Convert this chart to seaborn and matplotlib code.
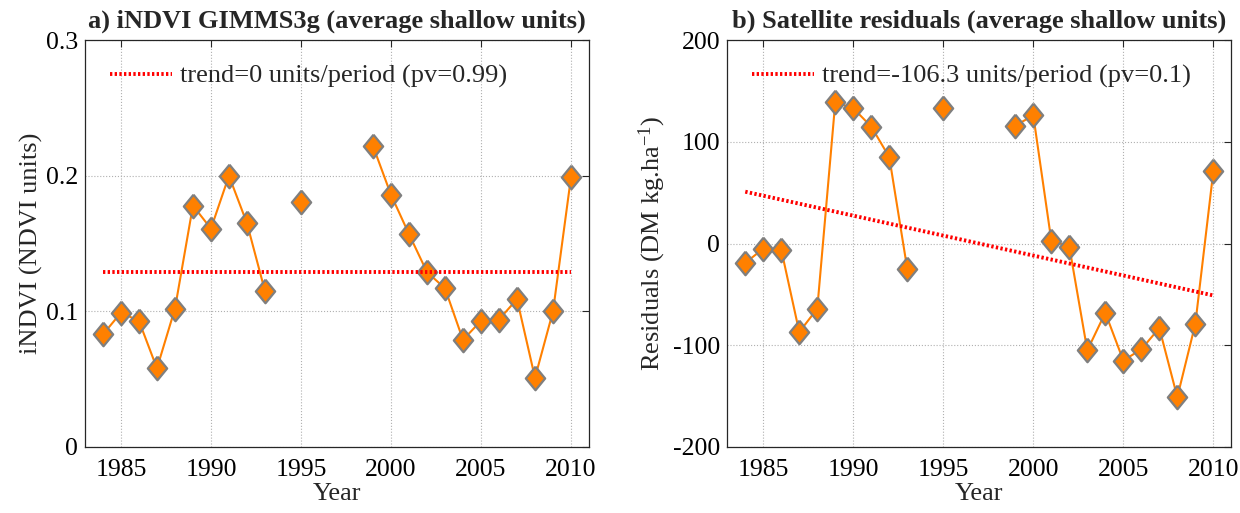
import numpy as np
import pandas as pd
import matplotlib
matplotlib.use("Agg")
import matplotlib.pyplot as plt
import seaborn as sns

years = list(range(1984, 2011))
nan = np.nan
indvi = [0.083, 0.099, 0.093, 0.058, 0.102, 0.178, 0.161, 0.200, 0.165, 0.115,
         nan, 0.181, nan, nan, nan, 0.222, 0.186, 0.157, 0.129, 0.117,
         0.079, 0.093, 0.094, 0.109, 0.051, 0.100, 0.199]
resid = [-19, -5, -6, -87, -64, 139, 133, 115, 85, -25,
         nan, 133, nan, nan, nan, 116, 126, 3, -3, -105,
         -68, -115, -104, -83, -151, -79, 71]
trend_years = [1984, 2010]
trend_indvi = [0.129, 0.129]
trend_resid = [51, -51]

titles = ["a) iNDVI GIMMS3g (average shallow units)",
          "b) Satellite residuals (average shallow units)"]
ylabels = ["iNDVI (NDVI units)", r"Residuals (DM kg.ha$^{-1}$)"]
legends = ["trend=0 units/period (pv=0.99)",
           "trend=-106.3 units/period (pv=0.1)"]
xticks = [1985, 1990, 1995, 2000, 2005, 2010]
yticks_a = [0, 0.1, 0.2, 0.3]
ytick_labels_a = ["0", "0.1", "0.2", "0.3"]
yticks_b = [-200, -100, 0, 100, 200]
ytick_labels_b = ["-200", "-100", "0", "100", "200"]

sns.set_style("white")
plt.rcParams["font.family"] = ["Liberation Serif", "DejaVu Serif"]
plt.rcParams["mathtext.fontset"] = "custom"
plt.rcParams["mathtext.rm"] = "Liberation Serif"
plt.rcParams["mathtext.it"] = "Liberation Serif:italic"
plt.rcParams["mathtext.default"] = "regular"

ORANGE = "#FF8000"
EDGE = "#7F7F7F"
diamond = [(0, 1), (0.82, 0), (0, -1), (-0.82, 0), (0, 1)]

fig = plt.figure(figsize=(12.4, 5.13), dpi=100)
ax_a = fig.add_axes([0.0685, 0.1287, 0.4065, 0.793])
ax_b = fig.add_axes([0.5865, 0.1287, 0.4065, 0.793])

def make_df(vals):
    df = pd.DataFrame({"year": years, "v": vals})
    df["seg"] = df["v"].isna().cumsum()
    return df.dropna()

panels = [
    (ax_a, indvi, trend_indvi, (0, 0.3), yticks_a, ytick_labels_a),
    (ax_b, resid, trend_resid, (-200, 200), yticks_b, ytick_labels_b),
]
FS = 19
TFS = 18.5
for i, (ax, vals, tr, ylim, yt, ytl) in enumerate(panels):
    df = make_df(vals)
    sns.lineplot(data=df, x="year", y="v", units="seg", estimator=None,
                 color=ORANGE, lw=1.5, ax=ax, legend=False, zorder=2)
    sns.scatterplot(data=df, x="year", y="v", marker=diamond, s=17 ** 2,
                    color=ORANGE, edgecolor=EDGE, linewidth=1.6, ax=ax,
                    legend=False, zorder=3)
    tdf = pd.DataFrame({"year": trend_years, "v": tr})
    sns.lineplot(data=tdf, x="year", y="v", color="red", lw=2.8,
                 linestyle=(0, (0.6, 0.6)), ax=ax, label=legends[i], zorder=4)
    ax.set_xlim(1983, 2011)
    ax.set_ylim(*ylim)
    ax.set_xticks(xticks)
    ax.set_xticklabels([str(x) for x in xticks])
    ax.set_yticks(yt)
    ax.set_yticklabels(ytl)
    ax.grid(True, color="#B0B0B0", linestyle=":", linewidth=0.8)
    ax.tick_params(direction="in", length=5, width=0.8, labelsize=TFS,
                   top=True, right=True, colors="#262626", labelcolor="black",
                   pad=5)
    ax.tick_params(axis="x", pad=9)
    for s in ax.spines.values():
        s.set_color("#262626")
        s.set_linewidth(0.9)
    ax.set_xlabel("Year", fontsize=FS, labelpad=1)
    ax.set_ylabel(ylabels[i], fontsize=FS, labelpad=2 if i == 0 else 4)
    ax.set_title(titles[i], fontsize=FS, fontweight="bold", pad=9)
    ax.legend(loc="upper left", frameon=False, fontsize=FS,
              handlelength=2.35, handletextpad=0.3, borderpad=0,
              borderaxespad=0, bbox_to_anchor=(0.05, 0.94))

fig.savefig("out.png", dpi=100)
